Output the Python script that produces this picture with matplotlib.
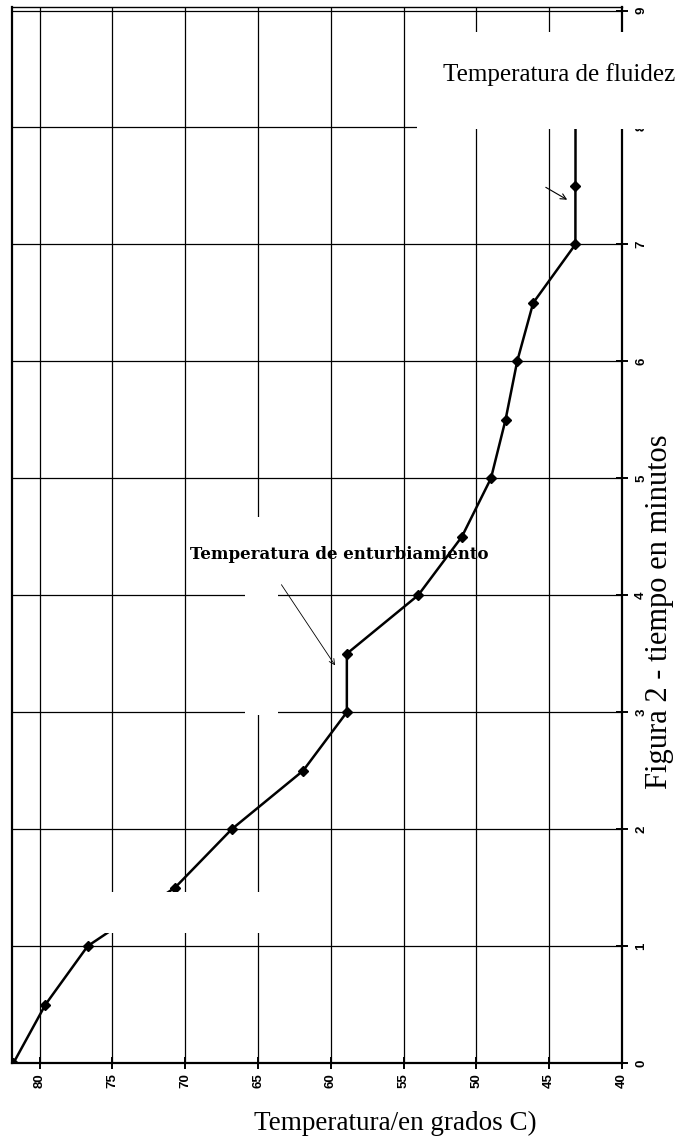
import matplotlib.pyplot as plt
from matplotlib.patches import Rectangle

# tiempo (min) vs temperatura (grados C)
tiempo = [0, 0.5, 1, 1.5, 2, 2.5, 3, 3.5, 4, 4.5, 5, 5.5, 6, 6.5, 7, 7.5]
temperatura = [81.8, 79.6, 76.7, 70.7, 66.8, 61.9, 58.9, 58.9, 54.0, 51.0,
               49.0, 48.0, 47.2, 46.1, 43.2, 43.2]
# the line keeps going up past the last marker (hidden under the label box)
tiempo_fin = [7.5, 8.2]
temp_fin = [43.2, 43.2]

temp_ticks = [80, 75, 70, 65, 60, 55, 50, 45, 40]
tiempo_ticks = [0, 1, 2, 3, 4, 5, 6, 7, 8, 9]

fig = plt.figure(figsize=(6.86, 11.46), dpi=100)
ax = fig.add_axes([12 / 686, 83 / 1146, 610 / 686, 1056 / 1146])

ax.plot(temperatura, tiempo, color='black', lw=1.8, marker='D', ms=5, zorder=3)
ax.plot(temp_fin, tiempo_fin, color='black', lw=1.8, zorder=3)

ax.set_xlim(81.9, 40)
ax.set_ylim(0, 9.03)
ax.set_xticks(temp_ticks)
ax.set_yticks(tiempo_ticks)
ax.set_xticklabels([str(t) for t in temp_ticks], rotation=90,
                   fontsize=9.5, fontweight='bold', family='Liberation Sans')
ax.set_yticklabels([str(t) for t in tiempo_ticks], rotation=90, va='center',
                   fontsize=9.5, fontweight='bold', family='Liberation Sans')
ax.yaxis.tick_right()
ax.tick_params(axis='both', direction='inout', length=9, width=1.4, color='black')
ax.tick_params(axis='x', pad=3)
ax.tick_params(axis='y', pad=5)
ax.grid(True, color='black', lw=0.9)
ax.set_axisbelow(True)
for side in ['left', 'bottom', 'right']:
    ax.spines[side].set_linewidth(1.6)
ax.spines['top'].set_linewidth(1.0)

# white patches left over from erased labels in the scan
ax.add_patch(Rectangle((79.66, 1.11), 60.8 - 79.66, 0.35, facecolor='white',
                       edgecolor='none', zorder=5))
ax.add_patch(Rectangle((65.9, 2.98), 63.6 - 65.9, 1.69, facecolor='white',
                       edgecolor='none', zorder=2.5))
ax.add_patch(Rectangle((54.1, 7.985), 37.0 - 54.1, 0.835, facecolor='white',
                       edgecolor='none', zorder=5, clip_on=False))

ax.text(69.7, 4.35, 'Temperatura de enturbiamiento', fontsize=12,
        fontweight='bold', family='DejaVu Serif', va='center', ha='left', zorder=6)
ax.annotate('', xy=(59.6, 3.38), xytext=(63.5, 4.11),
            arrowprops=dict(arrowstyle='->', lw=0.6, color='black'), zorder=6)
ax.annotate('', xy=(43.6, 7.37), xytext=(45.4, 7.5),
            arrowprops=dict(arrowstyle='->', lw=0.8, color='black'), zorder=6)

fig.text(559 / 686, 1 - 75 / 1146, 'Temperatura de fluidez', fontsize=18,
         family='Liberation Serif', ha='center', va='center', zorder=10)
fig.text(660 / 686, 1 - 612 / 1146, 'Figura 2 - tiempo en minutos', fontsize=22,
         family='Liberation Serif', rotation=90, ha='center', va='center')
fig.text(395 / 686, 1 - 1123 / 1146, 'Temperatura/en grados C)', fontsize=19.5,
         family='Liberation Serif', ha='center', va='center')

fig.savefig('out.png', dpi=100)
